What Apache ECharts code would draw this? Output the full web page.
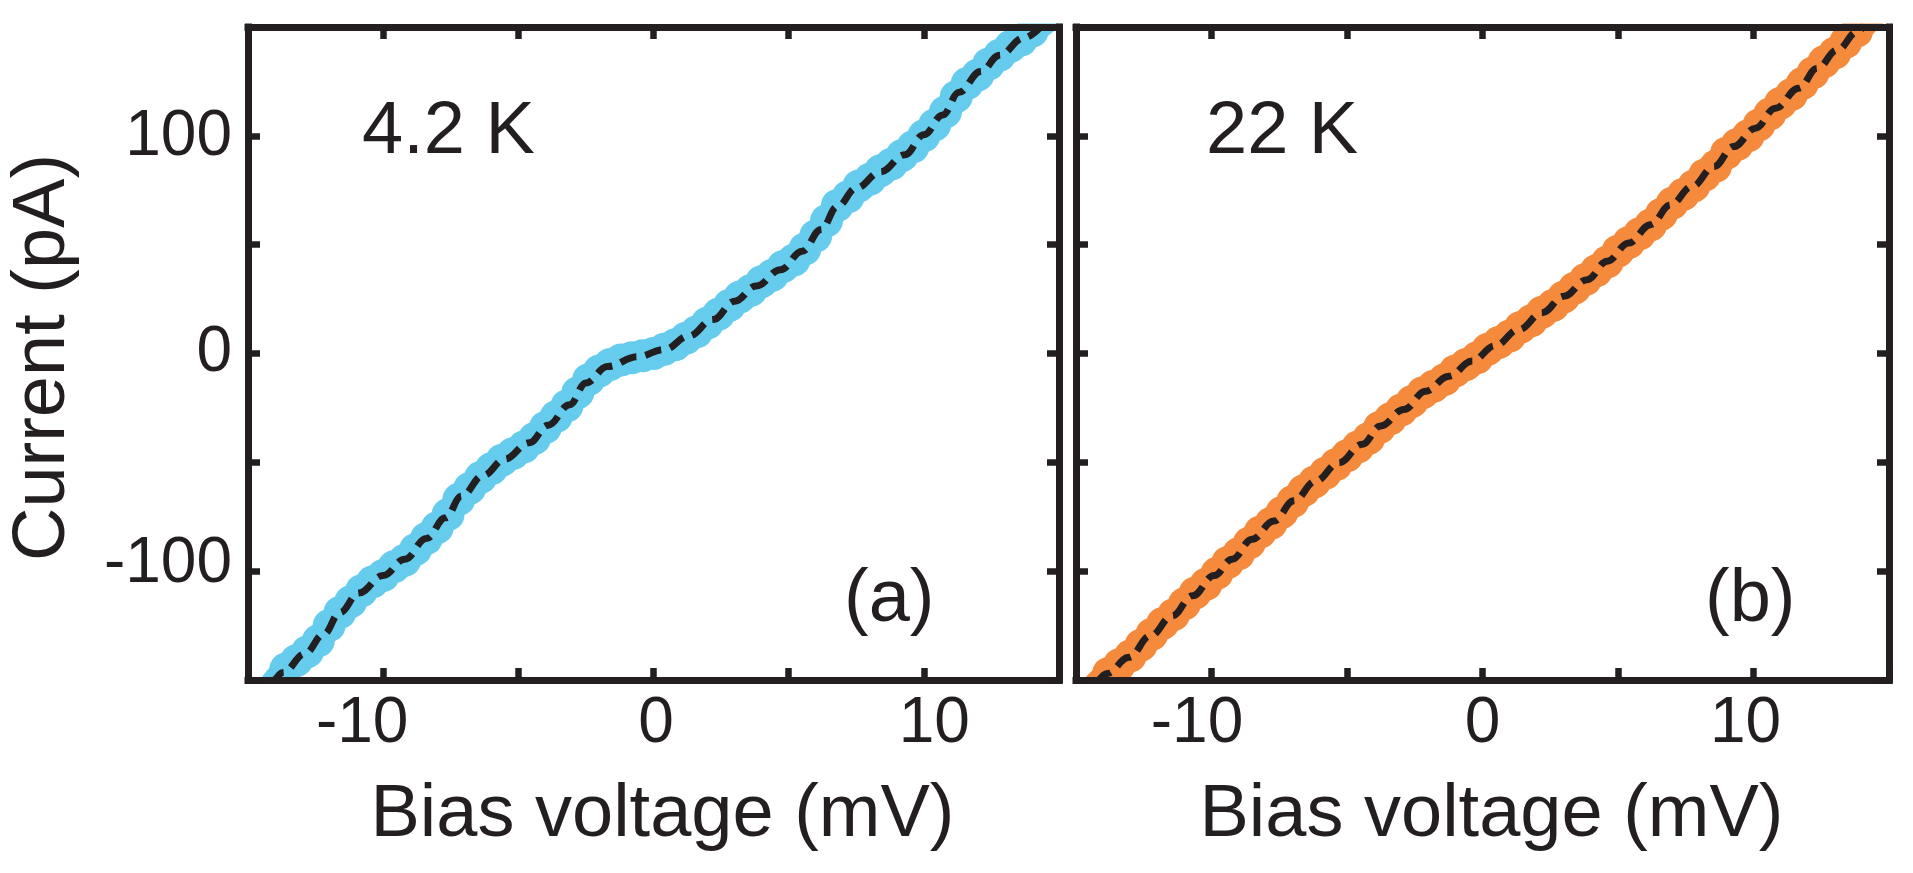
<!DOCTYPE html>
<html>
<head>
<meta charset="utf-8">
<title>I-V curves</title>
<script src="https://cdn.jsdelivr.net/npm/echarts@6/dist/echarts.min.js"></script>
<style>
  html, body { margin: 0; padding: 0; background: #fff; }
  #chart { width: 1913px; height: 873px; }
</style>
</head>
<body>
<div id="chart"></div>
<script>
// panel (a), 4.2 K : measured points
const voltA = [-14.4,-14.0,-13.6,-13.2,-12.8,-12.4,-12.0,-11.6,-11.2,-10.8,-10.4,-10.0,-9.6,-9.2,-8.8,-8.4,-8.0,-7.6,-7.2,-6.8,-6.4,-6.0,-5.6,-5.2,-4.8,-4.4,-4.0,-3.6,-3.2,-2.8,-2.4,-2.0,-1.6,-1.2,-0.8,-0.4,0.0,0.4,0.8,1.2,1.6,2.0,2.4,2.8,3.2,3.6,4.0,4.4,4.8,5.2,5.6,6.0,6.4,6.8,7.2,7.6,8.0,8.4,8.8,9.2,9.6,10.0,10.4,10.8,11.2,11.6,12.0,12.4,12.8,13.2,13.6,14.0,14.4,14.8];
const currA = [-158,-151,-145,-141,-137,-132,-125,-119,-114,-109,-105,-102,-98,-95,-90,-85,-80,-74,-67,-62,-57,-53,-49,-46,-43,-39,-34,-29,-24,-18,-12,-8,-5,-3,-2,-1,0,2,4,7,10,14,18,22,26,29,33,36,40,43,48,54,61,68,72,77,80,84,87,91,95,100,105,111,118,124,128,133,137,141,144,148,152,156];
// panel (a) : fit
const fitVoltA = [-14.1,-13.7,-12.9,-12.2,-11.6,-10.9,-10.0,-9.2,-8.4,-7.7,-7.1,-6.3,-5.5,-4.6,-3.9,-3.1,-2.5,-1.7,-0.6,0.4,1.3,2.2,3.0,3.8,4.7,5.5,6.2,6.8,7.5,8.4,9.3,10.0,10.7,11.3,12.1,12.8,13.7,14.4];
const fitCurrA = [-152,-146.5,-138,-129,-119,-110,-102,-94.5,-85,-75.5,-65.5,-56,-48.5,-41,-33,-23.5,-13.5,-6,-1.5,1.8,8,15.6,24,31,38.5,47,57,67.5,76,83.5,91.3,100.5,109.6,120,129.5,137,145,151];

// panel (b), 22 K : measured points
const voltB = [-14.6,-14.2,-13.8,-13.4,-13.0,-12.6,-12.2,-11.8,-11.4,-11.0,-10.6,-10.2,-9.8,-9.4,-9.0,-8.6,-8.2,-7.8,-7.4,-7.0,-6.6,-6.2,-5.8,-5.4,-5.0,-4.6,-4.2,-3.8,-3.4,-3.0,-2.6,-2.2,-1.8,-1.4,-1.0,-0.6,-0.2,0.2,0.6,1.0,1.4,1.8,2.2,2.6,3.0,3.4,3.8,4.2,4.6,5.0,5.4,5.8,6.2,6.6,7.0,7.4,7.8,8.2,8.6,9.0,9.4,9.8,10.2,10.6,11.0,11.4,11.8,12.2,12.6,13.0,13.4,13.8,14.2,14.6];
const currB = [-157,-152,-147,-143,-139,-134,-129,-124,-120,-115,-110,-106,-101,-96,-92,-87,-82,-78,-73,-68,-63,-59,-55,-51,-47,-43,-39,-34,-30,-26,-22,-18,-15,-12,-8,-5,-2,2,5,8,12,15,19,22,26,30,34,38,42,47,51,55,59,64,69,73,77,82,86,92,96,100,105,110,115,119,124,129,134,138,143,148,153,158];
// panel (b) : fit
const fitVoltB = [-14.2,-13.85,-13.05,-12.25,-11.45,-10.7,-9.9,-9.24,-8.5,-7.7,-6.96,-6.16,-5.3,-4.44,-3.76,-2.9,-2.1,-1.24,-0.38,0.45,1.34,2.2,3.0,3.86,4.6,5.4,6.2,6.94,7.74,8.54,9.27,10.07,10.81,11.67,12.35,13.09,13.83,14.1];
const fitCurrB = [-151,-147,-139.6,-129.7,-120.5,-111.3,-102,-94.5,-85.3,-77,-67.7,-58.6,-50.2,-41.7,-33.3,-25.7,-17.3,-10.4,-3.5,3.5,11,18.7,26.3,33.9,42.4,50.8,59.2,68.3,76.8,85.9,95.1,103.5,112.7,121.9,131,139.4,147.8,151];

// tick labels
const xTickLabels = [-10, 0, 10];
const yTickLabels = [-100, 0, 100];

const ink = '#231f20';
const blue = '#66ccee';
const orange = '#f58a3d';
const font = '"Liberation Sans", Arial, Helvetica, sans-serif';

function zip(xs, ys) {
    return xs.map((x, i) => [x, ys[i]]);
}

// small nudges so the tick labels sit where the original typesetting put them
const xNudgeA = { '-10': [0, 42, 0, 0], '0': [0, 0, 0, 5], '10': [0, 0, 0, 21] };
const xNudgeB = { '-10': [0, 29, 0, 0], '0': [0, 0, 0, 0], '10': [0, 16, 0, 0] };
const yNudge = { '-100': [0, 0, 13, 0], '0': [0, 0, 0, 0], '100': [3, 0, 0, 0] };

function richFor(nudge) {
    const rich = {};
    Object.keys(nudge).forEach((k, i) => {
        rich['t' + i] = { fontSize: 64, color: '#231f20', fontFamily: font, padding: nudge[k] };
    });
    return rich;
}

function fmt(nudge, list) {
    const keys = Object.keys(nudge);
    return v => list.includes(v) ? '{t' + keys.indexOf(String(v)) + '|' + v + '}' : '';
}

function xAxis(grid, pos, withLabels, nudge) {
    return {
        type: 'value', gridIndex: grid, position: pos,
        min: -15, max: 15, interval: 5, z: 10,
        axisLine: { show: true, onZero: false, lineStyle: { color: ink, width: 7, cap: 'square' } },
        axisTick: { show: true, inside: true, length: 12, lineStyle: { color: ink, width: 6.5 } },
        axisLabel: {
            show: withLabels, margin: 12, fontSize: 64, color: ink, fontFamily: font,
            formatter: fmt(nudge, xTickLabels), rich: richFor(nudge)
        },
        splitLine: { show: false },
        name: withLabels ? 'Bias voltage (mV)' : '',
        nameLocation: 'middle', nameGap: 99,
        nameTextStyle: { fontSize: 74, color: ink, fontFamily: font, padding: [0, 0, 0, 18] }
    };
}

function yAxis(grid, pos, withLabels) {
    return {
        type: 'value', gridIndex: grid, position: pos,
        min: -150, max: 150, interval: 50, z: 10,
        axisLine: { show: true, onZero: false, lineStyle: { color: ink, width: 7, cap: 'square' } },
        axisTick: { show: true, inside: true, length: 12, lineStyle: { color: ink, width: 6.5 } },
        axisLabel: {
            show: withLabels, margin: 16, fontSize: 64, color: ink, fontFamily: font,
            formatter: fmt(yNudge, yTickLabels), rich: richFor(yNudge)
        },
        splitLine: { show: false },
        name: withLabels ? 'Current (pA)' : '',
        nameLocation: 'middle', nameGap: 167,
        nameTextStyle: { fontSize: 74, color: ink, fontFamily: font, padding: [0, 8, 0, 0] }
    };
}

function measured(xi, yi, xs, ys, color) {
    return {
        type: 'line', xAxisIndex: xi, yAxisIndex: yi,
        data: zip(xs, ys), clip: true, z: 2,
        lineStyle: { color: color, width: 27 },
        symbol: 'circle', symbolSize: 33, showSymbol: true, showAllSymbol: true,
        itemStyle: { color: color, borderWidth: 0 },
        emphasis: { disabled: true }
    };
}

function fit(xi, yi, xs, ys) {
    return {
        type: 'line', xAxisIndex: xi, yAxisIndex: yi,
        data: zip(xs, ys), clip: true, z: 3,
        smooth: 0.4, smoothMonotone: 'x', symbol: 'none',
        lineStyle: { color: ink, width: 7, type: [17, 9], cap: 'butt' },
        emphasis: { disabled: true }
    };
}

function label(text, x, y) {
    return {
        type: 'text', x: x, y: y, z: 20,
        style: {
            text: text, fontSize: 74, fontFamily: font, fill: ink,
            align: 'left', verticalAlign: 'middle',
            textAlign: 'left', textVerticalAlign: 'middle'
        }
    };
}

// white strips outside the frames, under the axes, so marker discs stop at the frame
function mask(x, y, w, h) {
    return { type: 'rect', z: 5, silent: true, shape: { x: x, y: y, width: w, height: h }, style: { fill: '#fff' } };
}

const chart = echarts.init(document.getElementById('chart'));
const option = {
    animation: false,
    backgroundColor: '#fff',
    textStyle: { fontFamily: font },
    grid: [
        { left: 248, top: 27, width: 811, height: 653 },
        { left: 1076, top: 27, width: 813, height: 653 }
    ],
    xAxis: [
        xAxis(0, 'bottom', true, xNudgeA), xAxis(0, 'top', false, xNudgeA),
        xAxis(1, 'bottom', true, xNudgeB), xAxis(1, 'top', false, xNudgeB)
    ],
    yAxis: [yAxis(0, 'left', true), yAxis(0, 'right', false), yAxis(1, 'left', false), yAxis(1, 'right', false)],
    series: [
        measured(0, 0, voltA, currA, blue),
        fit(0, 0, fitVoltA, fitCurrA),
        measured(2, 2, voltB, currB, orange),
        fit(2, 2, fitVoltB, fitCurrB)
    ],
    graphic: [
        mask(0, 0, 1913, 23.5),
        mask(0, 683.5, 1913, 40),
        mask(200, 0, 44.5, 873),
        mask(1062.5, 0, 10, 873),
        mask(1892.5, 0, 20.5, 873),
        label('4.2 K', 362, 133),
        label('22 K', 1206, 133),
        label('(a)', 844, 601),
        label('(b)', 1705, 601)
    ]
};
chart.setOption(option);

window.onresize = function () {
    chart.resize();
};
</script>
</body>
</html>
